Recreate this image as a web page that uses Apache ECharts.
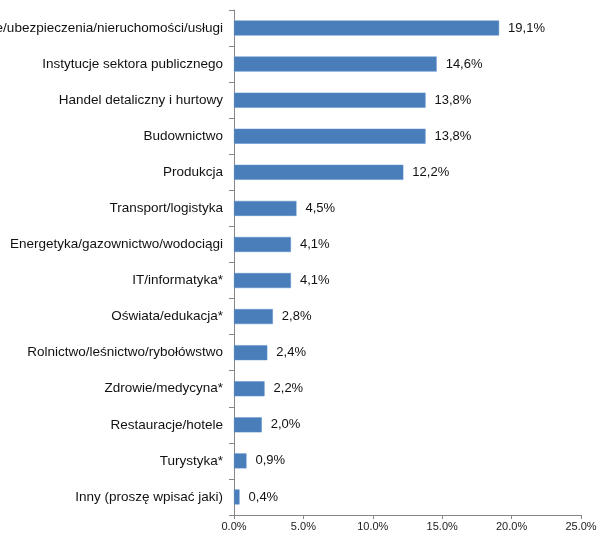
<!DOCTYPE html>
<html>
<head>
<meta charset="utf-8">
<script src="https://cdn.jsdelivr.net/npm/echarts@6/dist/echarts.min.js"></script>
<style>
  html, body { margin: 0; padding: 0; background: #fff; }
  #chart { width: 597px; height: 533px; }
</style>
</head>
<body>
<div id="chart"></div>
<script>
// dane wykresu
var categories = [
  'Finanse/ubezpieczenia/nieruchomości/usługi',
  'Instytucje sektora publicznego',
  'Handel detaliczny i hurtowy',
  'Budownictwo',
  'Produkcja',
  'Transport/logistyka',
  'Energetyka/gazownictwo/wodociągi',
  'IT/informatyka*',
  'Oświata/edukacja*',
  'Rolnictwo/leśnictwo/rybołówstwo',
  'Zdrowie/medycyna*',
  'Restauracje/hotele',
  'Turystyka*',
  'Inny (proszę wpisać jaki)'
];
var values = [19.1, 14.6, 13.8, 13.8, 12.2, 4.5, 4.1, 4.1, 2.8, 2.4, 2.2, 2.0, 0.9, 0.4];
var xTicks = [0, 5, 10, 15, 20, 25];

var chart = echarts.init(document.getElementById('chart'));
var option = {
  animation: false,
  textStyle: { fontFamily: 'Liberation Sans, Arial, sans-serif' },
  grid: {
    left: 234, right: 16, top: 10, bottom: 18,
    containLabel: false,
    outerBoundsMode: 'none'
  },
  xAxis: {
    type: 'value',
    min: xTicks[0],
    max: xTicks[xTicks.length - 1],
    interval: 5,
    axisLine: { show: true, lineStyle: { color: '#868686' } },
    axisTick: { show: true, length: 4, lineStyle: { color: '#868686' } },
    splitLine: { show: false },
    axisLabel: {
      color: '#222',
      fontSize: 11,
      margin: 6,
      hideOverlap: false,
      formatter: function (v) { return v.toFixed(1) + '%'; }
    }
  },
  yAxis: {
    type: 'category',
    inverse: true,
    data: categories,
    axisLine: { show: true, lineStyle: { color: '#868686' } },
    axisTick: { show: true, length: 5, lineStyle: { color: '#868686' } },
    axisLabel: { color: '#111', fontSize: 13.5, margin: 11, interval: 0 }
  },
  series: [{
    type: 'bar',
    data: values,
    barWidth: 15,
    itemStyle: { color: '#4a7ebb', borderColor: '#5b8fcc', borderWidth: 0.5 },
    label: {
      show: true,
      position: 'right',
      distance: 9,
      color: '#111',
      fontSize: 13,
      formatter: function (p) { return p.value.toFixed(1).replace('.', ',') + '%'; }
    }
  }]
};
chart.setOption(option);

window.addEventListener('resize', function () {
  chart.resize();
});
</script>
</body>
</html>
